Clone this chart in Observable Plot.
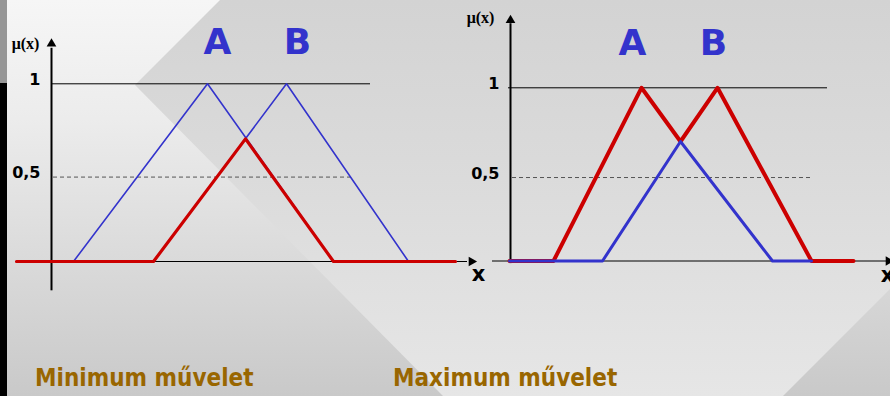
<!DOCTYPE html>
<html>
<head>
<meta charset="utf-8">
<script src="https://cdn.jsdelivr.net/npm/d3@7"></script>
<script src="https://cdn.jsdelivr.net/npm/@observablehq/plot@0.6"></script>
<style>
  html, body { margin: 0; padding: 0; }
  #stage { position: relative; width: 890px; height: 396px; overflow: hidden;
    background: linear-gradient(to bottom, #f6f6f6 0%, #ececec 30%, #c9c9c9 100%); }
  #poly { position: absolute; left: 0; top: 0; width: 890px; height: 396px;
    background: linear-gradient(to bottom, #d3d3d3 0%, #dadada 40%, #e6e6e6 100%);
    clip-path: polygon(220px 0px, 890px 0px, 890px 289px, 783px 396px, 443px 396px, 135px 85px); }
  #stripTop { position: absolute; left: 0; top: 0; width: 7px; height: 83px; background: #969696; }
  #stripBot { position: absolute; left: 0; top: 83px; width: 7px; height: 313px; background: #000; }
  .panel { position: absolute; top: 0; }
  .cap { position: absolute; top: 364px; font-family: "DejaVu Sans Condensed", "DejaVu Sans", sans-serif;
    font-stretch: condensed; font-weight: bold; font-size: 24px; color: #996600; white-space: nowrap; }
</style>
</head>
<body>
<div id="stage">
  <div id="poly"></div>
  <div id="stripTop"></div>
  <div id="stripBot"></div>
  <div class="panel" id="left" style="left:0px"></div>
  <div class="panel" id="right" style="left:440px"></div>
  <div class="cap" style="left:35px">Minimum művelet</div>
  <div class="cap" style="left:393px">Maximum művelet</div>
</div>
<script>
// ---- data (membership functions) ----
// Left panel: fuzzy sets A and B and their minimum (intersection)
const leftA = [{x:-8.75,y:0},{x:5.5,y:0},{x:39,y:1},{x:70.5,y:0}];
const leftB = [{x:25.5,y:0},{x:58.75,y:1},{x:89.25,y:0},{x:101,y:0}];
const leftMin = [{x:-8.75,y:0},{x:25.5,y:0},{x:48.5,y:0.69},{x:70.5,y:0},{x:101,y:0}];
// Right panel: maximum (union) and minimum
const rightMax = [{x:-0.25,y:0},{x:10.75,y:0},{x:32.75,y:1},{x:42.5,y:0.69},{x:51.75,y:1},{x:75.25,y:0},{x:85.75,y:0}];
const rightMin = [{x:-0.25,y:0},{x:23,y:0},{x:42.5,y:0.69},{x:65.5,y:0},{x:75.25,y:0}];
// tick labels
const yTickLabels = ["1", "0,5"];
const yTickValues = [1, 0.5];
const setNames = ["A", "B"];
const leftNameX = [41.5, 61.5];
const rightNameX = [30.5, 50.75];
// guide extents
const leftGuides = {one:[0.25, 79.75], half:[0.5, 75.5], halfY:0.475, base:[-8.75, 104], arrowX:105, axisY:[-0.165, 1.2], arrowY:1.225, labelY:1.23, xLabel:[106.75, -0.07], muX:-6.5, muY:1.227};
const rightGuides = {one:[-0.5, 79.25], half:[0.5, 75.25], halfY:0.482, base:[-4.5, 94], arrowX:94.5, axisY:[-0.015, 1.37], arrowY:1.39, labelY:1.255, xLabel:[94.25, -0.083], muX:-7.5, muY:1.405};

const BLUE = "#3333cc", RED = "#cc0000";

function panel({width, marginLeft, marginRight, marginTop, marginBottom, xDomain, g, nameX, lines}) {
  const sans = "DejaVu Sans, sans-serif";
  return Plot.plot({
    width, height: 396, marginLeft, marginRight, marginTop, marginBottom,
    x: {domain: xDomain, axis: null},
    y: {domain: [0, 1], axis: null},
    style: {background: "transparent", overflow: "visible"},
    marks: [
      Plot.ruleY([1], {x1: g.one[0], x2: g.one[1], stroke: "black", strokeWidth: 1}),
      Plot.ruleY([g.halfY], {x1: g.half[0], x2: g.half[1], stroke: "#555", strokeWidth: 1, strokeDasharray: "4,3"}),
      Plot.ruleY([0], {x1: g.base[0], x2: g.base[1], stroke: "black", strokeWidth: 1.2}),
      Plot.dot([{x: g.arrowX, y: 0}], {x: "x", y: "y", symbol: "triangle", r: 3.6, rotate: 90, fill: "black", stroke: "none"}),
      Plot.ruleX([0], {y1: g.axisY[0], y2: g.axisY[1], stroke: "black", strokeWidth: 2}),
      Plot.dot([{x: 0, y: g.arrowY}], {x: "x", y: "y", symbol: "triangle", r: 3.6, fill: "black", stroke: "none"}),
      ...lines,
      Plot.text(yTickLabels, {x: () => 0, y: (d, i) => (i === 0 ? 1 : g.halfY), text: d => d, dx: -11, dy: -4, textAnchor: "end",
        fontSize: 16, fontWeight: "bold", fontFamily: sans, fill: "black"}),
      Plot.text(setNames, {x: (d, i) => nameX[i], y: () => g.labelY, text: d => d, fontSize: 36, fontWeight: "bold", fontFamily: sans, fill: BLUE}),
      Plot.text(["μ(x)"], {x: () => g.muX, y: () => g.muY, text: d => d, fontSize: 16, fontWeight: "bold", fontFamily: "Liberation Serif, DejaVu Serif, serif", fill: "black"}),
      Plot.text(["x"], {x: () => g.xLabel[0], y: () => g.xLabel[1], text: d => d, fontSize: 21, fontWeight: "bold", fontFamily: sans, fill: "black"})
    ]
  });
}

const leftPlot = panel({
  width: 480, marginLeft: 51, marginRight: 29, marginTop: 83.3, marginBottom: 135,
  xDomain: [0, 100], g: leftGuides, nameX: leftNameX,
  lines: [
    Plot.line(leftA, {x: "x", y: "y", stroke: BLUE, strokeWidth: 1.6}),
    Plot.line(leftB, {x: "x", y: "y", stroke: BLUE, strokeWidth: 1.6}),
    Plot.line(leftMin, {x: "x", y: "y", stroke: RED, strokeWidth: 3.2})
  ]
});
document.getElementById("left").appendChild(leftPlot);

const rightPlot = panel({
  width: 450, marginLeft: 70, marginRight: 20, marginTop: 87.3, marginBottom: 135.5,
  xDomain: [0, 90], g: rightGuides, nameX: rightNameX,
  lines: [
    Plot.line(rightMax, {x: "x", y: "y", stroke: RED, strokeWidth: 4}),
    Plot.line(rightMin, {x: "x", y: "y", stroke: BLUE, strokeWidth: 3})
  ]
});
document.getElementById("right").appendChild(rightPlot);
</script>
</body>
</html>
